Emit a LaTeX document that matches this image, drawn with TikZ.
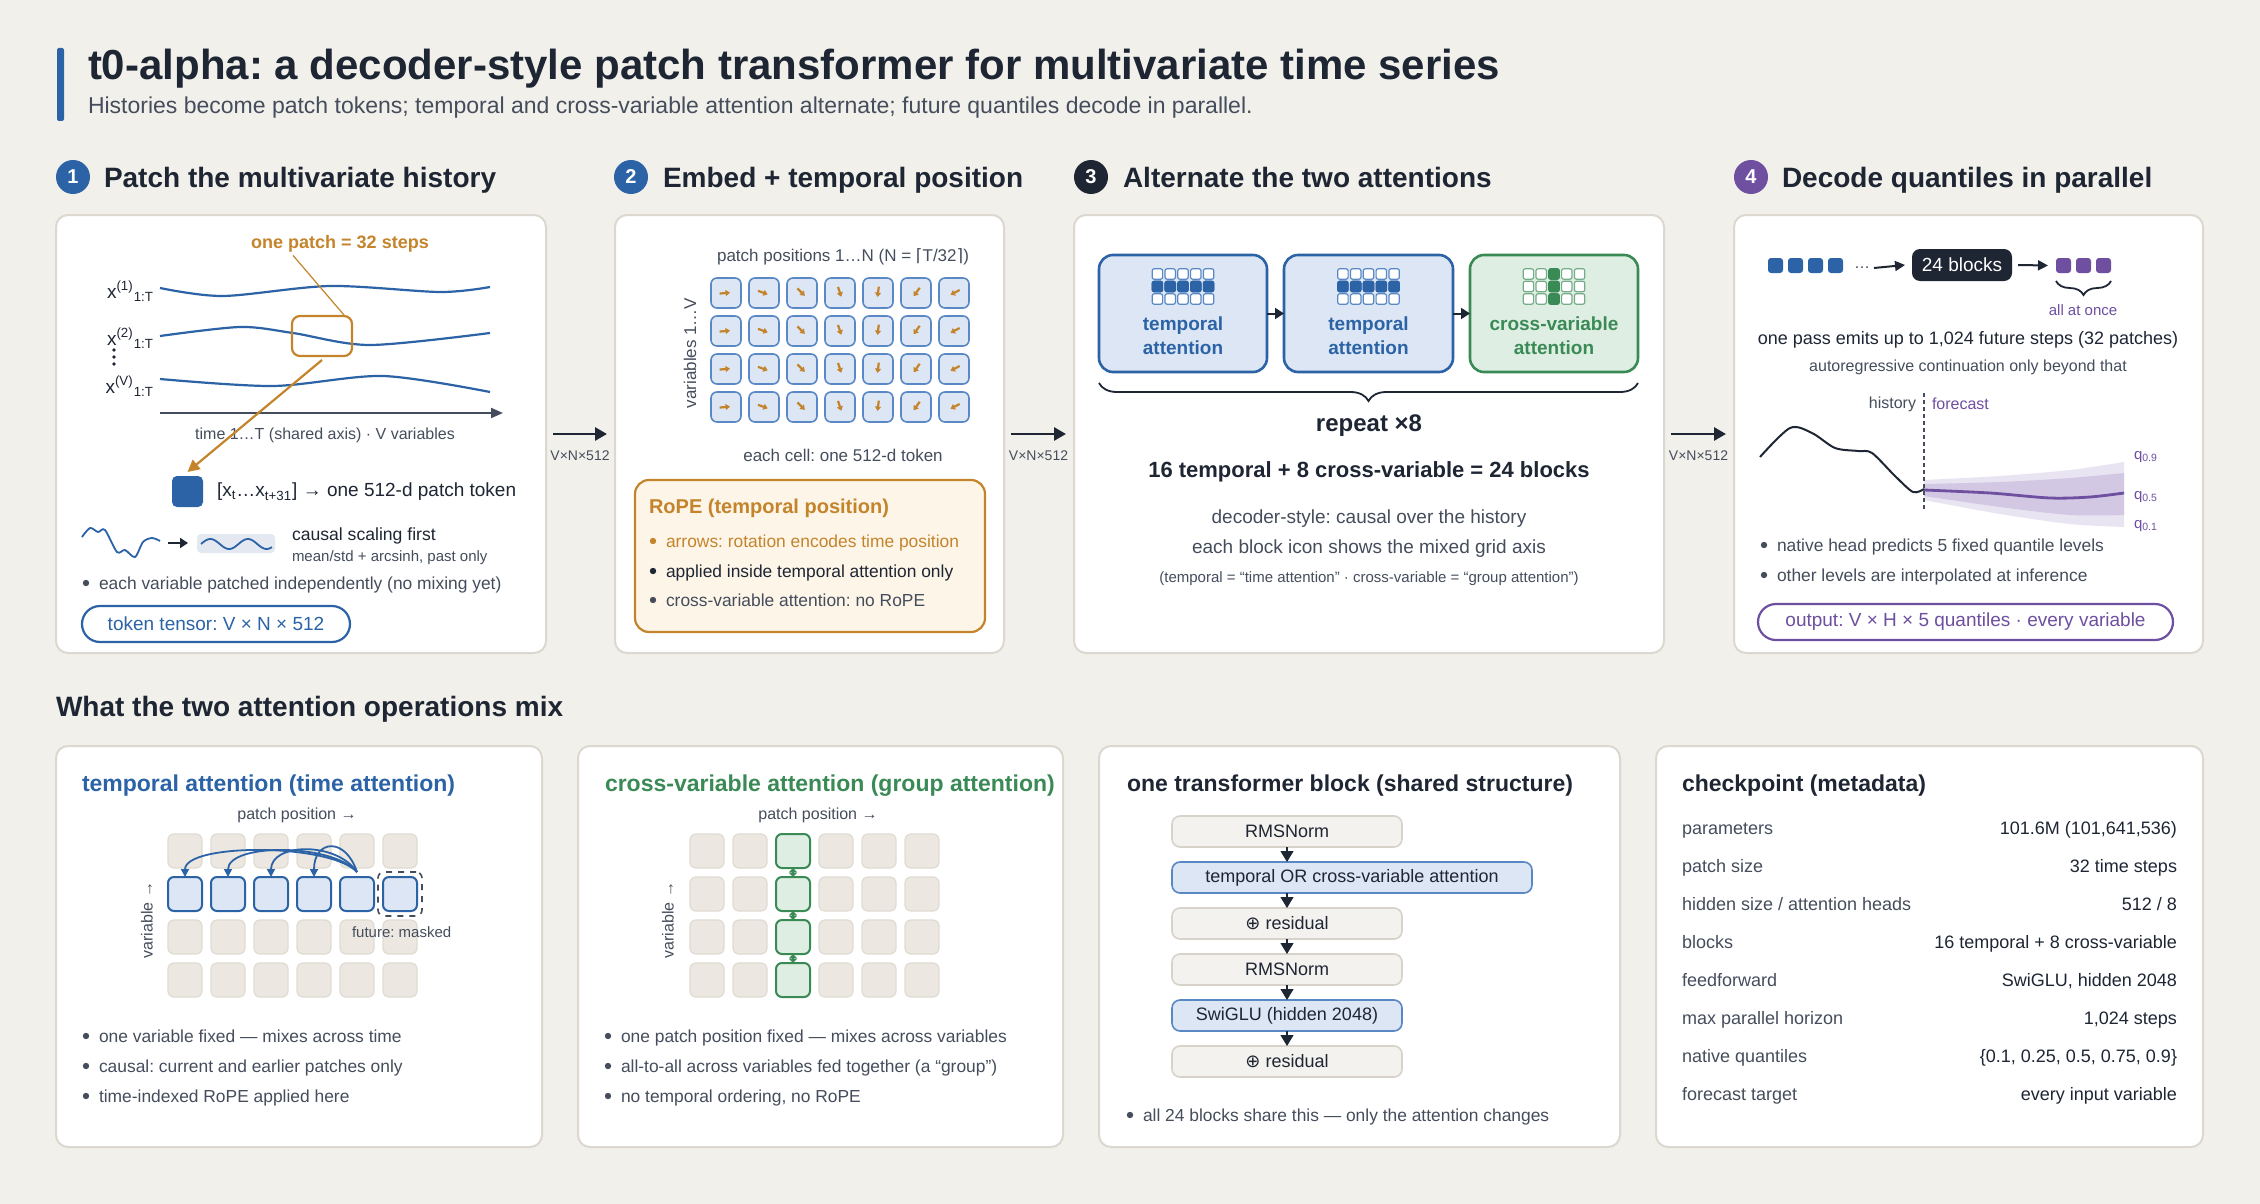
\documentclass[tikz,border=0pt]{standalone}
\usepackage{fontspec}
\setmainfont{Liberation Sans}
\newfontfamily\djv{DejaVu Sans}
\frenchspacing
\usetikzlibrary{arrows.meta,decorations.pathreplacing,fit,calc}
\definecolor{bg}{HTML}{F1F0EB}
\definecolor{pborder}{HTML}{DCD8CF}
\definecolor{ink}{HTML}{1E2533}
\definecolor{muted}{HTML}{454D5C}
\definecolor{tblue}{HTML}{2B63A6}
\definecolor{lblue}{HTML}{DCE6F4}
\definecolor{cblue}{HTML}{5A88C4}
\definecolor{sblue}{HTML}{E4E9F1}
\definecolor{orng}{HTML}{C4842C}
\definecolor{lorng}{HTML}{FDF5E8}
\definecolor{grn}{HTML}{3A8A56}
\definecolor{lgrn}{HTML}{DFEEE3}
\definecolor{purp}{HTML}{6E4FA0}
\definecolor{lpurp}{HTML}{E9E4F1}
\definecolor{mpurp}{HTML}{D3C8E4}
\definecolor{beige}{HTML}{ECE8E1}
\definecolor{beigeb}{HTML}{E0DBD2}
\definecolor{stepbg}{HTML}{F4F2EE}
\definecolor{stepbd}{HTML}{D8D3CA}
\newcommand{\fsz}[1]{\fontsize{#1}{#1}\selectfont}
\begin{document}
\begin{tikzpicture}[x=0.5pt,y=-0.5pt,every node/.style={inner sep=0pt,outer sep=0pt}]
\tikzset{
  pnl/.style={draw=pborder,fill=white,line width=1pt,rounded corners=6pt},
  hd/.style={anchor=base west,font=\fsz{14}\bfseries,text=ink},
  num/.style={circle,minimum size=17pt,text=white,font=\fsz{10}\bfseries},
  bigarr/.style={draw=ink,line width=1.4pt,-{Triangle[length=6pt,width=6.5pt]}},
  arrlbl/.style={font=\fsz{7},text=muted},
  btxt/.style={anchor=base west,yshift=-3.1pt,font=\fsz{8.7},text=muted},
  wave/.style={draw=tblue,line width=1.1pt},
  gcell/.style={draw=cblue,fill=lblue,line width=0.8pt,rounded corners=3pt,minimum size=15pt},
  icn/.style={draw=cblue,fill=white,line width=0.6pt,rounded corners=1pt,minimum size=5.2pt},
  bcell/.style={draw=beigeb,fill=beige,line width=0.6pt,rounded corners=3pt,minimum size=17pt},
  stp/.style={draw=stepbd,fill=stepbg,line width=0.8pt,rounded corners=4pt,minimum width=115pt,minimum height=15.5pt,font=\fsz{9},text=ink},
  stpb/.style={stp,draw=cblue,fill=lblue},
  tri/.style={draw=ink,line width=0.6pt,-{Triangle[length=5.5pt,width=6.5pt]}},
  tarc/.style={draw=tblue,line width=0.9pt,-{Triangle[length=4pt,width=4pt]}},
  rowl/.style={anchor=base west,yshift=-3.2pt,font=\fsz{9},text=muted},
  rowv/.style={anchor=base east,yshift=-3.2pt,font=\fsz{9},text=ink}
}
% background
\fill[bg] (0,0) rectangle (2260,1204);
\useasboundingbox (0,0) rectangle (2260,1204);

% title
\fill[tblue,rounded corners=1pt] (57,48) rectangle (64,121);
\node[anchor=base west,font=\fsz{21}\bfseries,text=ink] (title) at (88,80) {t0-alpha: a decoder-style patch transformer for multivariate time series};
\node[anchor=base west,font=\fsz{11.5},text=muted] (subtitle) at (88,114) {Histories become patch tokens; temporal and cross-variable attention alternate; future quantiles decode in parallel.};

% section heads
\node[num,fill=tblue] (n1) at (73,177) {1};
\node[hd] (h1) at (104,187) {Patch the multivariate history};
\node[num,fill=tblue] (n2) at (631,177) {2};
\node[hd] (h2) at (663,187) {Embed + temporal position};
\node[num,fill=ink] (n3) at (1091,177) {3};
\node[hd] (h3) at (1123,187) {Alternate the two attentions};
\node[num,fill=purp] (n4) at (1751,177) {4};
\node[hd] (h4) at (1782,187) {Decode quantiles in parallel};
\node[hd] (h5) at (56,716) {What the two attention operations mix};

% panels
\node[pnl,fit={(56,215)(546,653)}] (P1) {};
\node[pnl,fit={(615,215)(1004,653)}] (P2) {};
\node[pnl,fit={(1074,215)(1664,653)}] (P3) {};
\node[pnl,fit={(1734,215)(2203,653)}] (P4) {};
\node[pnl,fit={(56,746)(542,1147)}] (P5) {};
\node[pnl,fit={(578,746)(1063,1147)}] (P6) {};
\node[pnl,fit={(1099,746)(1620,1147)}] (P7) {};
\node[pnl,fit={(1656,746)(2203,1147)}] (P8) {};

% inter-panel arrows
\draw[bigarr] ([xshift=3.5pt]P1.east) -- ([xshift=-4pt]P2.west) node[midway,below=8.5pt,arrlbl] (l12) {V×N×512};
\draw[bigarr] ([xshift=3.5pt]P2.east) -- ([xshift=-4pt]P3.west) node[midway,below=8.5pt,arrlbl] (l23) {V×N×512};
\draw[bigarr] ([xshift=3.5pt]P3.east) -- ([xshift=-4pt]P4.west) node[midway,below=8.5pt,arrlbl] (l34) {V×N×512};

% ---------- panel 1
\node[font=\fsz{9}\bfseries,text=orng] (lblpatch) at (340,244) {one patch = 32 steps};
\node[anchor=east,font=\fsz{9.5},text=ink] (x1) at (154,291) {x\textsuperscript{(1)}\textsubscript{1:T}};
\node[anchor=east,font=\fsz{9.5},text=ink] (x2) at (154,338) {x\textsuperscript{(2)}\textsubscript{1:T}};
\node[anchor=east,font=\fsz{9.5},text=ink] (xV) at (154,386) {x\textsuperscript{(V)}\textsubscript{1:T}};
\foreach \yy in {350,357,364} \fill[ink] (114,\yy) circle (0.9pt);
\draw[wave] plot[smooth] coordinates {(160,288) (223,296) (330,286) (440,292) (490,287)};
\draw[wave] plot[smooth] coordinates {(160,336) (240,327) (293,333) (370,345) (490,333)};
\draw[wave] plot[smooth] coordinates {(160,379) (273,386) (383,376) (490,392)};
\node[draw=orng,line width=1.1pt,rounded corners=4pt,fit={(292,316)(352,356)}] (pbox) {};
\draw[orng,line width=0.6pt] ($(lblpatch.south)+(-47,3)$) -- ($(pbox.north east)+(-8,-1)$);
\coordinate (axL) at (160,413);
\coordinate (axR) at (503,413);
\draw[muted,line width=1pt,-{Triangle[length=6pt,width=5pt]}] (axL) -- (axR);
\node[font=\fsz{8},text=muted] (axlbl) at (325,435) {time 1…T (shared axis) · V variables};
\node[fill=tblue,rounded corners=2.5pt,minimum size=15.5pt] (tok) at (187.5,491.5) {};
\draw[orng,line width=1.1pt,-{Triangle[length=6pt,width=6pt]}] ([yshift=-2pt]pbox.south) -- ([yshift=2pt]tok.north);
\node[anchor=west,font=\fsz{9.5},text=ink] (toktxt) at (217,492) {[x\textsubscript{t}…x\textsubscript{t+31}] → one 512-d patch token};
\draw[tblue,line width=0.9pt] plot[smooth] coordinates {(82,537) (90,528) (98,532) (105,530) (117,552) (125,550) (135,557) (143,542) (152,538) (160,541)};
\coordinate (sa1) at (168,543);
\coordinate (sa2) at (188,543);
\draw[ink,line width=1pt,-{Triangle[length=4pt,width=5pt]}] (sa1) -- (sa2);
\node[fill=sblue,rounded corners=2pt,fit={(197,534)(275,553)}] (sbox) {};
\draw[tblue,line width=0.9pt,domain=201:272,samples=50,smooth] plot (\x,{544-5*sin((\x-201)*9.6)});
\node[anchor=base west,font=\fsz{8.8},text=ink] (cs1) at (292,540) {causal scaling first};
\node[anchor=base west,font=\fsz{7.5},text=muted] (cs2) at (292,561) {mean/std + arcsinh, past only};
\fill[muted] (86,583) circle (1.6pt);
\node[btxt] (p1b1) at (99,583) {each variable patched independently (no mixing yet)};
\node[draw=tblue,line width=1.1pt,rounded corners=9pt,fit={(82,606)(350,642)}] (pill1) {};
\node[font=\fsz{9.5},text=tblue] (pill1t) at (pill1.center) {token tensor: V × N × 512};

% ---------- panel 2
\node[font=\fsz{8.5},text=muted] (pp) at (843,257) {patch positions 1…N (N = {\djv ⌈}T/32{\djv ⌉})};
\foreach \i/\a in {0/5,1/-20,2/-45,3/-72,4/-97,5/-125,6/-152} {
  \foreach \j in {0,...,3} {
    \node[gcell] (e\i\j) at ({726+38*\i},{293+38*\j}) {};
    \draw[orng,line width=1.1pt,-{Triangle[length=2.2pt,width=3pt]}] ($(e\i\j.center)+(\a+180:3.2pt)$) -- ($(e\i\j.center)+(\a:2pt)$);
  }
}
\node[rotate=90,font=\fsz{8.5},text=muted] (vv) at (690,353) {variables 1…V};
\node[font=\fsz{8.5},text=muted] (ec) at (843,455) {each cell: one 512-d token};
\node[draw=orng,fill=lorng,line width=1.1pt,rounded corners=7pt,fit={(635,480)(985,632)}] (rope) {};
\node[anchor=base west,font=\fsz{10}\bfseries,text=orng] (ropet) at (649,513) {RoPE (temporal position)};
\fill[orng] (653,541) circle (1.6pt);
\node[btxt,text=orng] (r1) at (666,541) {arrows: rotation encodes time position};
\fill[ink] (653,571) circle (1.6pt);
\node[btxt,text=ink] (r2) at (666,571) {applied inside temporal attention only};
\fill[muted] (653,600) circle (1.6pt);
\node[btxt] (r3) at (666,600) {cross-variable attention: no RoPE};

% ---------- panel 3
\node[draw=tblue,fill=lblue,line width=1.3pt,rounded corners=7pt,fit={(1099,255)(1267,372)}] (A1) {};
\node[draw=tblue,fill=lblue,line width=1.3pt,rounded corners=7pt,fit={(1284,255)(1453,372)}] (A2) {};
\node[draw=grn,fill=lgrn,line width=1.3pt,rounded corners=7pt,fit={(1470,255)(1638,372)}] (A3) {};
\foreach \bx/\cx in {A1/1183,A2/1368.5} {
  \foreach \i in {0,...,4} \foreach \j in {0,1,2}
    \node[icn] (\bx-\i-\j) at ({\cx+12.8*(\i-2)},{274+12.5*\j}) {};
  \foreach \i in {0,...,4}
    \node[icn,fill=tblue,draw=tblue] (\bx-f\i) at ({\cx+12.8*(\i-2)},286.5) {};
}
\foreach \i in {0,...,4} \foreach \j in {0,1,2}
  \node[icn,draw=grn!70] (A3-\i-\j) at ({1554+12.8*(\i-2)},{274+12.5*\j}) {};
\foreach \j in {0,1,2}
  \node[icn,fill=grn,draw=grn] (A3-f\j) at (1554,{274+12.5*\j}) {};
\node[align=center,font=\fontsize{9.5}{12}\selectfont\bfseries,text=tblue] (A1t) at (1183,336) {temporal\\attention};
\node[align=center,font=\fontsize{9.5}{12}\selectfont\bfseries,text=tblue] (A2t) at (1368.5,336) {temporal\\attention};
\node[align=center,font=\fontsize{9.5}{12}\selectfont\bfseries,text=grn] (A3t) at (1554,336) {cross-variable\\attention};
\draw[ink,line width=1pt,-{Triangle[length=4.5pt,width=5.5pt]}] (A1.east) -- (A2.west);
\draw[ink,line width=1pt,-{Triangle[length=4.5pt,width=5.5pt]}] (A2.east) -- (A3.west);
\coordinate (brL) at (1099,383);
\coordinate (brR) at (1638,383);
\draw[ink,line width=0.9pt,decorate,decoration={brace,mirror,amplitude=9pt}] (brL) -- (brR);
\node[font=\fsz{12}\bfseries,text=ink] (rep) at (1369,426) {repeat ×8};
\node[font=\fsz{11}\bfseries,text=ink] (tot) at (1369,472) {16 temporal + 8 cross-variable = 24 blocks};
\node[font=\fsz{9.5},text=muted] (d1) at (1369,519) {decoder-style: causal over the history};
\node[font=\fsz{9.5},text=muted] (d2) at (1369,549) {each block icon shows the mixed grid axis};
\node[font=\fsz{7.5},text=muted] (d3) at (1369,579) {(temporal = “time attention” · cross-variable = “group attention”)};

% ---------- panel 4
\foreach \k in {0,...,3}
  \node[fill=tblue,rounded corners=1.5pt,minimum size=7.5pt] (bt\k) at ({1775.5+20*\k},265.5) {};
\node[font=\fsz{8},text=muted] (dots) at (1862,268) {…};
\node[fill=ink,rounded corners=4pt,minimum width=50pt,minimum height=16pt,text=white,font=\fsz{9.5}] (blk) at (1962,265) {24 blocks};
\foreach \k in {0,1,2}
  \node[fill=purp,rounded corners=1.5pt,minimum size=7.5pt] (pt\k) at ({2063.5+20*\k},265.5) {};
\draw[ink,line width=1pt,-{Triangle[length=5pt,width=5pt]}] ([xshift=2pt]dots.east) -- ([xshift=-3.5pt]blk.west);
\draw[ink,line width=1pt,-{Triangle[length=5pt,width=5pt]}] ([xshift=3pt]blk.east) -- ([xshift=-4pt]pt0.west);
\draw[ink,line width=0.9pt,decorate,decoration={brace,mirror,amplitude=7pt}] ([yshift=-4pt]pt0.south west) -- ([yshift=-4pt]pt2.south east);
\node[font=\fsz{7.5},text=purp] (aao) at (2083,310) {all at once};
\node[font=\fsz{9},text=ink] (op1) at (1968,340) {one pass emits up to 1,024 future steps (32 patches)};
\node[font=\fsz{8},text=muted] (op2) at (1968,367) {autoregressive continuation only beyond that};
\fill[lpurp] plot[smooth] coordinates {(1924,480) (2000,476) (2070,470) (2124,462)} -- plot[smooth] coordinates {(2124,527) (2070,524) (2000,514) (1924,500)} -- cycle;
\fill[mpurp] plot[smooth] coordinates {(1924,484) (2000,482) (2070,478) (2124,473)} -- plot[smooth] coordinates {(2124,515) (2070,515) (2000,507) (1924,496)} -- cycle;
\draw[purp,line width=1.4pt] plot[smooth] coordinates {(1924,490) (1990,493) (2050,498) (2090,497) (2124,493)};
\draw[ink,line width=1pt] plot[smooth] coordinates {(1760,457) (1790,428) (1812,433) (1835,448) (1858,451) (1872,453) (1895,476) (1913,492) (1924,489)};
\coordinate (dvT) at (1924,393);
\coordinate (dvB) at (1924,512);
\draw[muted,line width=0.7pt,dash pattern=on 2pt off 1.5pt] (dvT) -- (dvB);
\node[anchor=east,font=\fsz{8},text=muted] (hist) at (1916,404) {history};
\node[anchor=west,font=\fsz{8},text=purp] (fcst) at (1932,404) {forecast};
\node[anchor=west,font=\fsz{7.5},text=purp] (q9) at (2134,457) {q\textsubscript{0.9}};
\node[anchor=west,font=\fsz{7.5},text=purp] (q5) at (2134,497) {q\textsubscript{0.5}};
\node[anchor=west,font=\fsz{7.5},text=purp] (q1) at (2134,526) {q\textsubscript{0.1}};
\fill[muted] (1764,545) circle (1.6pt);
\node[btxt] (p4b1) at (1777,545) {native head predicts 5 fixed quantile levels};
\fill[muted] (1764,575) circle (1.6pt);
\node[btxt] (p4b2) at (1777,575) {other levels are interpolated at inference};
\node[draw=purp,line width=1.1pt,rounded corners=9pt,fit={(1758,604)(2173,640)}] (pill4) {};
\node[font=\fsz{9.5},text=purp] (pill4t) at (pill4.center) {output: V × H × 5 quantiles · every variable};

% ---------- panel 5
\node[anchor=base west,font=\fsz{11.5}\bfseries,text=tblue] (t5) at (82,791) {temporal attention (time attention)};
\node[font=\fsz{8},text=muted] (pp5) at (297,815) {patch position →};
\foreach \i in {0,...,5} {
  \foreach \j in {0,2,3} \node[bcell] (t\i\j) at ({185+43*\i},{851+43*\j}) {};
  \node[bcell,draw=tblue,fill=lblue,line width=1pt] (t\i1) at ({185+43*\i},894) {};
}
\node[draw=muted,dashed,line width=0.8pt,rounded corners=3pt,fit=(t51),inner sep=2.5pt] (mask) {};
\coordinate (src) at ($(t41.north)+(0,-5)$);
\draw[tarc] (src) .. controls (330,843) and (185,843) .. (t01.north);
\draw[tarc] (src) .. controls (332,843) and (228,843) .. (t11.north);
\draw[tarc] (src) .. controls (336,841) and (271,843) .. (t21.north);
\draw[tarc] (src) .. controls (345,836) and (314,840) .. (t31.north);
\node[anchor=west,font=\fsz{7.5},text=muted] (fm) at (352,932) {future: masked};
\node[rotate=90,font=\fsz{8},text=muted] (var5) at (147,920) {variable →};
\fill[muted] (86,1036) circle (1.6pt);
\node[btxt] (p5b1) at (99,1036) {one variable fixed — mixes across time};
\fill[muted] (86,1066) circle (1.6pt);
\node[btxt] (p5b2) at (99,1066) {causal: current and earlier patches only};
\fill[muted] (86,1096) circle (1.6pt);
\node[btxt] (p5b3) at (99,1096) {time-indexed RoPE applied here};

% ---------- panel 6
\node[anchor=base west,font=\fsz{11.5}\bfseries,text=grn] (t6) at (605,791) {cross-variable attention (group attention)};
\node[font=\fsz{8},text=muted] (pp6) at (818,815) {patch position →};
\foreach \i in {0,1,3,4,5} \foreach \j in {0,...,3}
  \node[bcell] (g\i\j) at ({707+43*\i},{851+43*\j}) {};
\foreach \j in {0,...,3}
  \node[bcell,draw=grn,fill=lgrn,line width=1pt] (g2\j) at (793,{851+43*\j}) {};
\foreach \j/\k in {0/1,1/2,2/3}
  \draw[grn,line width=0.9pt,{Triangle[length=2.2pt,width=4pt]}-{Triangle[length=2.2pt,width=4pt]}] (g2\j.south) -- (g2\k.north);
\node[rotate=90,font=\fsz{8},text=muted] (var6) at (668,920) {variable →};
\fill[muted] (608,1036) circle (1.6pt);
\node[btxt] (p6b1) at (621,1036) {one patch position fixed — mixes across variables};
\fill[muted] (608,1066) circle (1.6pt);
\node[btxt] (p6b2) at (621,1066) {all-to-all across variables fed together (a “group”)};
\fill[muted] (608,1096) circle (1.6pt);
\node[btxt] (p6b3) at (621,1096) {no temporal ordering, no RoPE};

% ---------- panel 7
\node[anchor=base west,font=\fsz{11.5}\bfseries,text=ink] (t7) at (1127,791) {one transformer block (shared structure)};
\node[stp] (s1) at (1287,831.5) {RMSNorm};
\node[stpb,minimum width=180pt] (s2) at (1352,877.5) {temporal OR cross-variable attention};
\node[stp] (s3) at (1287,923.5) {{\djv ⊕} residual};
\node[stp] (s4) at (1287,969.5) {RMSNorm};
\node[stpb] (s5) at (1287,1015.5) {SwiGLU (hidden 2048)};
\node[stp] (s6) at (1287,1061.5) {{\djv ⊕} residual};
\foreach \a/\b in {s1/s2,s2/s3,s3/s4,s4/s5,s5/s6}
  \draw[tri] (\a.south -| s1.south) -- (\b.north -| s1.south);
\fill[muted] (1130,1115) circle (1.6pt);
\node[btxt] (p7b1) at (1143,1115) {all 24 blocks share this — only the attention changes};

% ---------- panel 8
\node[anchor=base west,font=\fsz{11.5}\bfseries,text=ink] (t8) at (1682,791) {checkpoint (metadata)};
\node[rowl] (k1) at (1682,828) {parameters};
\node[rowv] (v1) at (2177,828) {101.6M (101,641,536)};
\node[rowl] (k2) at (1682,866) {patch size};
\node[rowv] (v2) at (2177,866) {32 time steps};
\node[rowl] (k3) at (1682,904) {hidden size / attention heads};
\node[rowv] (v3) at (2177,904) {512 / 8};
\node[rowl] (k4) at (1682,942) {blocks};
\node[rowv] (v4) at (2177,942) {16 temporal + 8 cross-variable};
\node[rowl] (k5) at (1682,980) {feedforward};
\node[rowv] (v5) at (2177,980) {SwiGLU, hidden 2048};
\node[rowl] (k6) at (1682,1018) {max parallel horizon};
\node[rowv] (v6) at (2177,1018) {1,024 steps};
\node[rowl] (k7) at (1682,1056) {native quantiles};
\node[rowv] (v7) at (2177,1056) {\{0.1, 0.25, 0.5, 0.75, 0.9\}};
\node[rowl] (k8) at (1682,1094) {forecast target};
\node[rowv] (v8) at (2177,1094) {every input variable};
\end{tikzpicture}
\end{document}
